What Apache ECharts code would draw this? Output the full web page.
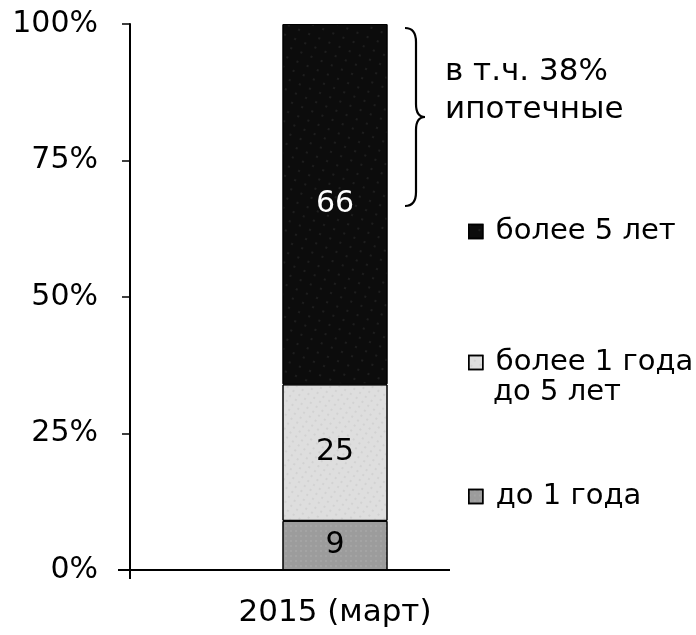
<!DOCTYPE html>
<html>
<head>
<meta charset="utf-8">
<script src="https://cdn.jsdelivr.net/npm/echarts@6/dist/echarts.min.js"></script>
<style>
  html, body { margin: 0; padding: 0; background: #fff; }
  #chart-panel { width: 696px; height: 635px; }
</style>
</head>
<body>
<div id="chart-panel"></div>
<script>
var categories = ['2015 (март)'];
var seriesNames = ['до 1 года', 'более 1 года до 5 лет', 'более 5 лет'];
var upTo1 = [9];
var from1to5 = [25];
var over5 = [66];
var yTicks = [0, 25, 50, 75, 100];

(function () {
    var myChart = echarts.init(document.querySelector('#chart-panel'));
    var font = 'DejaVu Sans, Liberation Sans, sans-serif';

    // заливки сегментов (под скан с точечной текстурой)
    var styles = [
        { color: '#9c9c9c', decal: { symbol: 'rect', symbolSize: 0.5, color: 'rgba(255,255,255,0.35)', dashArrayX: [[2, 3]], dashArrayY: [2, 3], rotation: 0 } },
        { color: '#dedede', decal: { symbol: 'rect', symbolSize: 0.6, color: 'rgba(110,110,110,0.35)', dashArrayX: [[2, 5]], dashArrayY: [2, 4], rotation: 0.6 } },
        { color: '#0c0c0c', decal: { symbol: 'rect', symbolSize: 0.5, color: 'rgba(190,190,190,0.4)', dashArrayX: [[2, 9]], dashArrayY: [2, 8], rotation: 0.4 } }
    ];
    var labelColors = ['#000', '#000', '#fff'];
    var values = [upTo1, from1to5, over5];

    var series = values.map(function (v, i) {
        return {
            name: seriesNames[i],
            type: 'bar',
            stack: 'total',
            barWidth: 105,
            data: v,
            itemStyle: {
                color: styles[i].color,
                decal: styles[i].decal,
                borderColor: '#000',
                borderWidth: 1
            },
            label: {
                show: true,
                position: 'inside',
                color: labelColors[i],
                fontFamily: font,
                fontSize: 30
            }
        };
    });

    function legendBox(name, top, text) {
        return {
            data: [name],
            orient: 'vertical',
            left: 463,
            top: top,
            itemWidth: 14,
            itemHeight: 14,
            itemGap: 0,
            icon: 'rect',
            formatter: function () { return text; },
            itemStyle: { borderColor: '#000', borderWidth: 1.5 },
            textStyle: { fontFamily: font, fontSize: 29, color: '#000', padding: [0, 0, 0, 8] },
            selectedMode: false
        };
    }

    var brace = { fill: 'none', stroke: '#000', lineWidth: 2.2 };

    var option = {
        animation: false,
        backgroundColor: '#fff',
        grid: { left: 130, right: 156, top: 24, bottom: 65 },
        xAxis: {
            type: 'category',
            data: categories,
            axisLine: { show: false },
            axisTick: { show: false },
            axisLabel: { color: '#000', fontFamily: font, fontSize: 31, margin: 27 }
        },
        yAxis: {
            type: 'value',
            min: yTicks[0],
            max: yTicks[yTicks.length - 1],
            interval: 25,
            splitLine: { show: false },
            axisLine: { show: true, lineStyle: { color: '#000', width: 2 } },
            axisTick: { show: true, inside: false, length: 8, lineStyle: { color: '#000', width: 1.5 } },
            axisLabel: { color: '#000', fontFamily: font, fontSize: 30, margin: 32, formatter: '{value}%' }
        },
        legend: [
            legendBox('более 5 лет', 212, 'более 5 лет'),
            legendBox('более 1 года до 5 лет', 343, 'более 1 года'),
            legendBox('до 1 года', 477, 'до 1 года')
        ],
        graphic: [
            { // ось X короче сетки, как на оригинале
                type: 'line',
                shape: { x1: 118, y1: 570, x2: 450, y2: 570 },
                style: { stroke: '#000', lineWidth: 2 }
            },
            {
                type: 'line',
                shape: { x1: 130, y1: 570, x2: 130, y2: 579 },
                style: { stroke: '#000', lineWidth: 2 }
            },
            // фигурная скобка
            { type: 'bezierCurve', shape: { x1: 405, y1: 28, cpx1: 416, cpy1: 28, x2: 416, y2: 42 }, style: brace },
            { type: 'line', shape: { x1: 416, y1: 42, x2: 416, y2: 104 }, style: brace },
            { type: 'bezierCurve', shape: { x1: 416, y1: 104, cpx1: 416, cpy1: 117, x2: 425, y2: 117 }, style: brace },
            { type: 'bezierCurve', shape: { x1: 425, y1: 117, cpx1: 416, cpy1: 117, x2: 416, y2: 130 }, style: brace },
            { type: 'line', shape: { x1: 416, y1: 130, x2: 416, y2: 192 }, style: brace },
            { type: 'bezierCurve', shape: { x1: 416, y1: 192, cpx1: 416, cpy1: 206, x2: 405, y2: 206 }, style: brace },
            {
                type: 'text',
                left: 445,
                top: 53,
                style: { text: 'в т.ч. 38%\nипотечные', font: '31px ' + font, fill: '#000', lineHeight: 38 }
            },
            {
                type: 'text',
                left: 493,
                top: 378,
                style: { text: 'до 5 лет', font: '29px ' + font, fill: '#000' }
            }
        ],
        series: series
    };

    myChart.setOption(option);
})();
</script>
</body>
</html>
